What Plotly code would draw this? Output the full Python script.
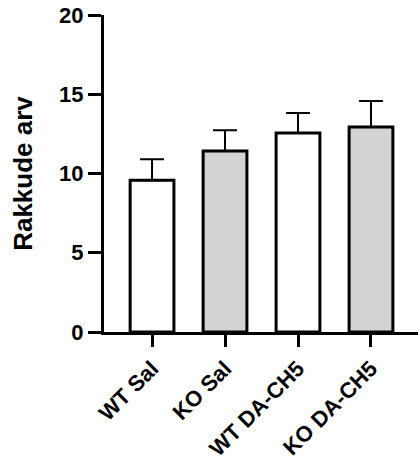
import plotly.graph_objects as go

categories = ["WT Sal", "KO Sal", "WT DA-CH5", "KO DA-CH5"]
means = [9.57, 11.42, 12.56, 12.93]
errors = [1.33, 1.31, 1.26, 1.64]
fill_colors = ["#ffffff", "#d3d3d3", "#ffffff", "#d3d3d3"]
y_ticks = [0, 5, 10, 15, 20]
y_title = "Rakkude arv"

FONT = "Liberation Sans, Arial, sans-serif"

fig = go.Figure()
fig.add_trace(go.Bar(
    x=list(range(len(categories))),
    y=means,
    width=0.6,
    marker=dict(color=fill_colors, line=dict(color="black", width=3)),
    error_y=dict(type="data", symmetric=False, array=errors,
                 arrayminus=[0] * len(errors), color="black",
                 thickness=2, width=12),
    showlegend=False,
))

fig.update_layout(
    width=418, height=465,
    margin=dict(l=104, r=0, t=15, b=133),
    plot_bgcolor="white", paper_bgcolor="white",
    font=dict(family=FONT, color="black"),
)
fig.update_xaxes(
    range=[-0.658, 3.644],
    tickvals=list(range(len(categories))),
    ticktext=categories,
    tickangle=-45,
    tickfont=dict(family=FONT, size=22, weight="bold", color="black"),
    showline=True, linewidth=3, linecolor="black",
    ticks="outside", ticklen=12, tickwidth=3, tickcolor="black",
    showgrid=False, zeroline=False, automargin=False,
)
fig.update_yaxes(
    range=[0, 20],
    tickvals=y_ticks,
    tickfont=dict(family=FONT, size=22, weight="bold", color="black"),
    showline=True, linewidth=3, linecolor="black",
    ticks="outside", ticklen=13, tickwidth=3, tickcolor="black",
    showgrid=False, zeroline=False, automargin=False,
    title=dict(text=y_title, font=dict(family=FONT, size=26, weight="bold", color="black"),
               standoff=20),
)

fig.write_html("out.html")
